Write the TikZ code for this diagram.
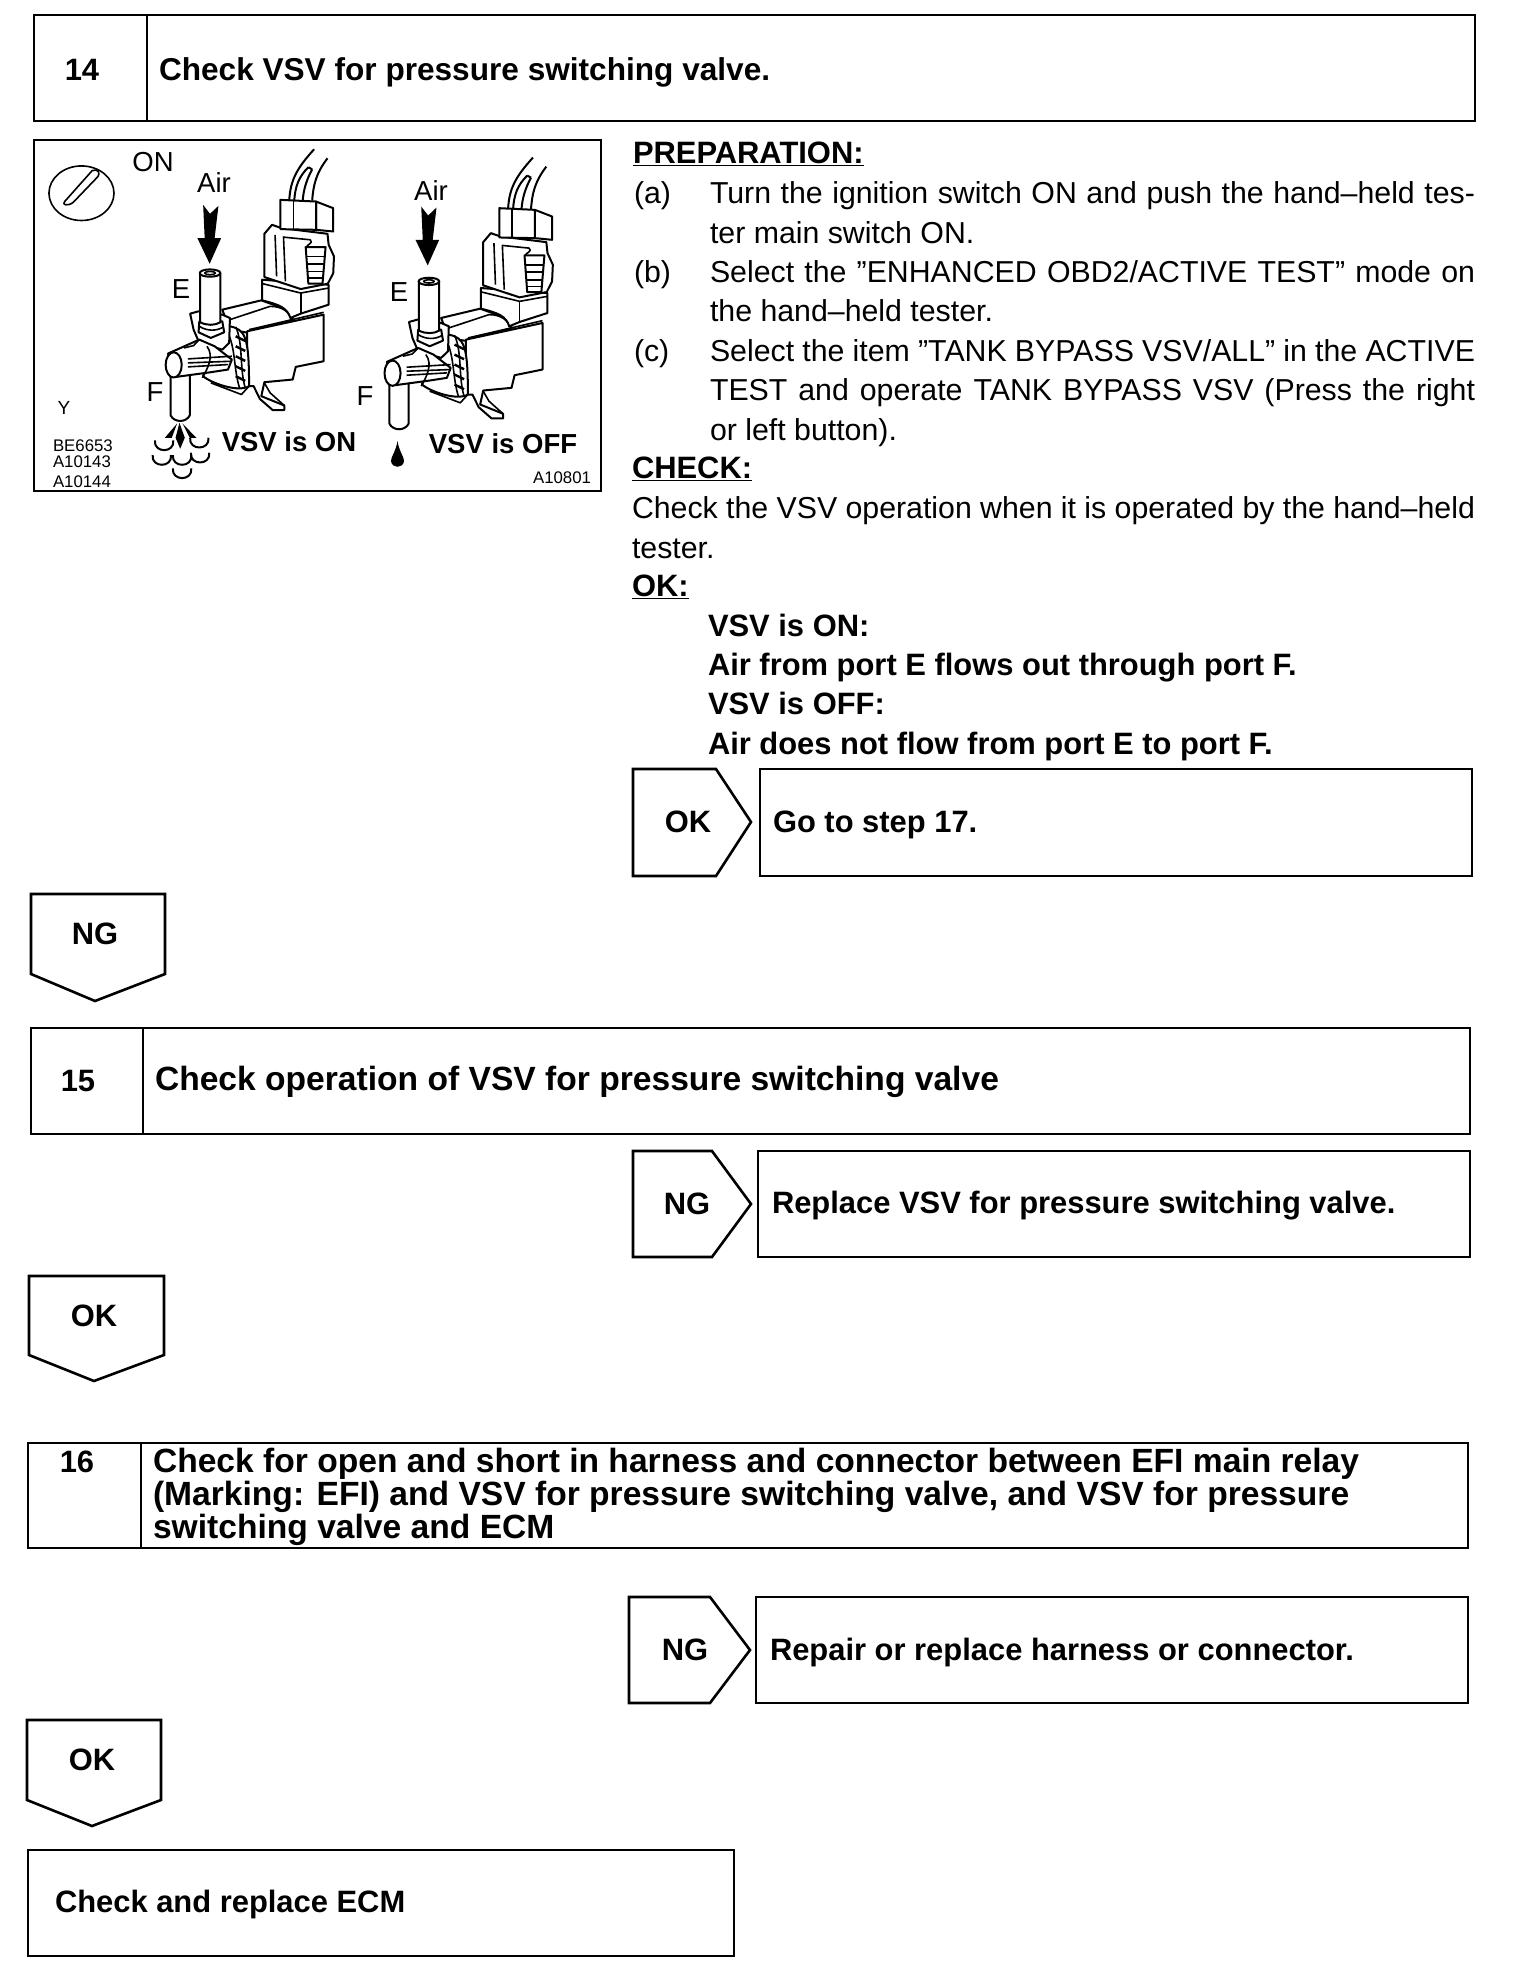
\documentclass[tikz,border=0pt]{standalone}
\usepackage{fontspec}
\setmainfont{Liberation Sans}
\newcommand{\bodyfs}{\fontsize{30.3}{35}\selectfont}
\newcommand{\boldfs}{\fontsize{30.9}{33}\selectfont\bfseries}
\newcommand{\jl}[2]{\makebox[#1pt][s]{#2}}
\tikzset{
 boxline/.style={draw=black,line width=2.6pt,line join=miter},
 body/.style={anchor=base west,inner sep=0pt,outer sep=0pt,font=\bodyfs},
 bold/.style={anchor=base west,inner sep=0pt,outer sep=0pt,font=\boldfs},
 boldl/.style={anchor=base west,inner sep=0pt,outer sep=0pt,font=\fontsize{33.6}{35}\selectfont\bfseries},
 boldm/.style={anchor=base west,inner sep=0pt,outer sep=0pt,font=\fontsize{31.6}{35}\selectfont\bfseries},
 ctr/.style={anchor=center,inner sep=0pt,outer sep=0pt,font=\boldfs},
 ill/.style={inner sep=0pt,outer sep=0pt,font=\fontsize{27.5}{30}\selectfont},
 illb/.style={inner sep=0pt,outer sep=0pt,font=\fontsize{27.5}{32}\selectfont\bfseries},
 tiny/.style={inner sep=0pt,outer sep=0pt,anchor=base west,font=\fontsize{16.8}{18}\selectfont},
 v/.style={draw=black,line width=2pt,fill=white,line join=round},
 vl/.style={draw=black,line width=1.6pt,line join=round},
}
% valve in zoom coordinates
\newcommand{\valve}{%
 % wires
 \draw[vl,line width=2pt] (770,58) .. controls (725,115) and (708,150) .. (705,212);
 \draw[vl,line width=2pt] (805,85) .. controls (775,130) and (768,165) .. (765,212);
 \draw[vl,line width=2pt] (755,112) .. controls (730,140) and (720,170) .. (718,215);
 \draw[vl,line width=2pt] (765,118) .. controls (750,150) and (742,180) .. (740,215);
 \draw[vl,line width=2pt] (755,112) -- (765,118);
 % main body back (cylinder)
 \draw[v] (530,540) -- (632,512) -- (700,540) -- (715,570) -- (600,610) -- (550,600) -- cycle;
 \draw[vl] (550,570) -- (655,530) .. controls (690,530) and (705,550) .. (712,568);
 % plug seat
 \draw[v] (634,450) -- (808,465) -- (808,525) -- (735,552) -- (708,565) .. controls (700,535) and (680,525) .. (634,512) -- cycle;
 \draw[vl] (636,462) -- (735,490) -- (808,475);
 \draw[vl] (735,490) -- (735,552);
 % connector
 \draw[v] (640,312) -- (660,285) -- (685,295) -- (805,312) -- (808,345) -- (822,380) -- (820,430) -- (806,462) -- (735,478) -- (640,442) -- cycle;
 \draw[vl] (690,320) -- (695,455);
 \draw[vl] (668,315) -- (672,440);
 \draw[vl] (690,322) -- (760,330) .. controls (770,340) and (750,345) .. (750,352);
 \draw[v] (748,352) -- (800,352) -- (792,462) -- (755,462) -- cycle;
 \foreach \yy in {380,402,425,445} \draw[vl] (752,\yy) -- (795,\yy);
 % top plug
 \draw[v] (775,215) -- (820,235) -- (820,305) -- (775,300) -- cycle;
 \draw[v] (682,210) -- (775,215) -- (775,300) -- (682,298) -- cycle;
 \draw[vl] (716,214) -- (716,300);
 % main body
 \draw[v] (595,605) -- (795,555) -- (795,695) -- (722,712) -- (714,750) -- (640,758) -- (632,800) -- (692,828) -- (692,842) -- (662,842) -- (628,808) -- (612,770) -- (595,770) -- cycle;
 \draw[vl] (600,600) -- (795,548);
 \draw[vl] (640,760) -- (655,790) -- (692,828);
 % coil disk
 \draw[v] (550,590) .. controls (590,600) and (600,620) .. (600,770) .. controls (570,790) and (500,760) .. (480,740) -- (500,640) -- cycle;
 \draw[vl] (565,592) .. controls (585,640) and (575,720) .. (590,775);
 \draw[vl] (545,610) .. controls (565,660) and (560,720) .. (575,775);
 \foreach \yy in {620,650,680,710,740} \draw[vl,line width=2.4pt] (565,\yy) -- (590,\yy+14);
 \draw[vl] (500,760) -- (580,795) -- (600,770);
 % flange & nut
 \draw[v] (446,552) -- (468,545) -- (530,555) -- (550,565) -- (548,640) -- (530,660) -- (470,640) -- (455,600) -- cycle;
 \draw[v] (470,575) -- (530,575) -- (535,608) -- (500,625) -- (468,608) -- cycle;
 \draw[vl] (470,590) .. controls (490,605) and (515,605) .. (533,592);
 % E tube
 \draw[v] (472,430) -- (472,578) .. controls (490,588) and (510,588) .. (525,578) -- (525,430) -- cycle;
 \draw[v] (498,430) ellipse [x radius=27,y radius=11];
 \draw[vl] (498,430) ellipse [x radius=14,y radius=5];
 % F tube
 \draw[v] (395,735) -- (395,858) .. controls (405,880) and (435,880) .. (445,858) -- (445,730) -- cycle;
 % F horizontal
 \draw[v] (388,672) -- (470,630) -- (510,650) -- (555,690) -- (545,720) -- (500,728) -- (410,742) -- cycle;
 \draw[vl] (430,655) -- (455,648) -- (470,630);
 \draw[vl] (440,688) -- (555,680);
 \draw[vl] (440,700) -- (555,695);
 \draw[vl] (440,712) -- (545,705);
 \draw[vl] (490,650) .. controls (510,680) and (490,720) .. (478,745);
 \draw[v] (403,706) ellipse [x radius=21,y radius=38];
}
\newcommand{\airarrow}{%
 \fill (480,225) -- (498,252) -- (520,228) -- (510,325) -- (527,325) -- (497,402) -- (465,325) -- (484,325) -- cycle;
}
\begin{document}
\begin{tikzpicture}[x=1pt,y=-1pt]
\useasboundingbox (0,0) rectangle (1520,1976);
\fill[white] (0,0) rectangle (1520,1976);
% header 14
\draw[boxline] (34,15) rectangle (1475,121);
\draw[boxline] (147,15) -- (147,121);
\node[ctr] (n14) at (82,70) {14};
\node[boldm] (t14) at (159,80) {Check VSV for pressure switching valve.};
% illustration
\draw[boxline] (34,140) rectangle (601,491);
\begin{scope}[shift={(19.5,130)},x=.3826pt,y=-.3327pt]
 \draw[vl] (162,190) ellipse [x radius=85,y radius=82];
 \draw[vl] (118,215) -- (190,122) .. controls (205,115) and (212,130) .. (205,140) -- (140,218) .. controls (125,230) and (110,225) .. (118,215) -- cycle;
 \valve
 \airarrow
 \begin{scope}[shift={(572,25)}]\valve\end{scope}
 \begin{scope}[shift={(570,5)}]\airarrow\end{scope}
 % puffs
 \fill (412,882) -- (380,925) -- (398,925) -- cycle;
 \fill (418,880) -- (408,925) -- (420,958) -- (432,925) -- cycle;
 \fill (426,882) -- (445,925) -- (462,925) -- cycle;
 \foreach \cx/\cy in {378/948,470/940,372/992,425/992,472/985,425/1032}{
  \draw[vl,line width=2pt] (\cx-24,\cy-15) .. controls (\cx-28,\cy+24) and (\cx+28,\cy+24) .. (\cx+24,\cy-15);
 }
 % drop
 \fill (988,935) .. controls (992,965) and (1006,985) .. (1005,995) .. controls (1003,1018) and (973,1018) .. (971,995) .. controls (970,985) and (984,965) .. (988,935) -- cycle;
\end{scope}
\node[ill] (on) at (153,162) {ON};
\node[ill] (air1) at (214,183) {Air};
\node[ill] (air2) at (431,191) {Air};
\node[ill] (e1) at (181,289) {E};
\node[ill] (e2) at (399,292) {E};
\node[ill] (f1) at (155,392) {F};
\node[ill] (f2) at (365,396) {F};
\node[ill,font=\fontsize{19}{21}\selectfont] (y) at (64,408) {Y};
\node[illb] (vsvon) at (289,442) {VSV is ON};
\node[illb] (vsvoff) at (503,444) {VSV is OFF};
\node[tiny] (c1) at (53,451) {BE6653};
\node[tiny] (c2) at (53,467) {A10143};
\node[tiny] (c3) at (53,487) {A10144};
\node[tiny,anchor=base east] (c4) at (591,483) {A10801};
% right text
\node[bold] (prep) at (633,163) {\underline{PREPARATION:}};
\node[body] (a) at (634,203) {(a)};
\node[body] (a1) at (710,203) {\jl{765}{Turn the ignition switch ON and push the hand--held tes-}};
\node[body] (a2) at (710,243) {ter main switch ON.};
\node[body] (b) at (634,282) {(b)};
\node[body] (b1) at (710,282) {\jl{765}{Select the "ENHANCED OBD2/ACTIVE TEST" mode on}};
\node[body] (b2) at (710,321) {the hand--held tester.};
\node[body] (c) at (634,361) {(c)};
\node[body] (c1l) at (710,361) {\jl{765}{Select the item "TANK BYPASS VSV/ALL" in the ACTIVE}};
\node[body] (c2l) at (710,400) {\jl{765}{TEST and operate TANK BYPASS VSV (Press the right}};
\node[body] (c3l) at (710,440) {or left button).};
\node[bold] (chk) at (632,478) {\underline{CHECK:}};
\node[body] (chk1) at (632,518) {\jl{843}{Check the VSV operation when it is operated by the hand--held}};
\node[body] (chk2) at (632,558) {tester.};
\node[bold] (okh) at (632,596) {\underline{OK:}};
\node[bold] (ok1) at (708,636) {VSV is ON:};
\node[bold] (ok2) at (708,675) {Air from port E flows out through port F.};
\node[bold] (ok3) at (708,714) {VSV is OFF:};
\node[bold] (ok4) at (708,754) {Air does not flow from port E to port F.};
% OK right
\draw[boxline] (633,769) -- (716,769) -- (751,822) -- (716,876) -- (633,876) -- cycle;
\node[ctr] (okr) at (688,822) {OK};
\draw[boxline] (760,769) rectangle (1472,876);
\node[bold] (go) at (773,832) {Go to step 17.};
% NG down
\draw[boxline] (31,894) -- (165,894) -- (165,974) -- (95,1001) -- (31,974) -- cycle;
\node[ctr] (ngd) at (95,934) {NG};
% 15
\draw[boxline] (31,1028) rectangle (1470,1134);
\draw[boxline] (143,1028) -- (143,1134);
\node[ctr] (n15) at (78,1081) {15};
\node[boldl] (t15) at (155,1090) {Check operation of VSV for pressure switching valve};
% NG right
\draw[boxline] (633,1151) -- (712,1151) -- (751,1204) -- (712,1257) -- (633,1257) -- cycle;
\node[ctr] (ngr) at (687,1204) {NG};
\draw[boxline] (758,1151) rectangle (1470,1257);
\node[bold] (rep) at (772,1213) {Replace VSV for pressure switching valve.};
% OK down
\draw[boxline] (29,1276) -- (164,1276) -- (164,1355) -- (94,1381) -- (29,1355) -- cycle;
\node[ctr] (okd) at (94,1316) {OK};
% 16
\draw[boxline] (28,1443) rectangle (1468,1548);
\draw[boxline] (141,1443) -- (141,1548);
\node[ctr] (n16) at (77,1462) {16};
\node[boldl] (t16a) at (153,1472) {Check for open and short in harness and connector between EFI main relay};
\node[boldl] (t16b) at (153,1505) {(Marking: EFI) and VSV for pressure switching valve, and VSV for pressure};
\node[boldl] (t16c) at (153,1538) {switching valve and ECM};
% NG right 2
\draw[boxline] (629,1597) -- (710,1597) -- (750,1650) -- (710,1703) -- (629,1703) -- cycle;
\node[ctr] (ngr2) at (685,1650) {NG};
\draw[boxline] (756,1597) rectangle (1468,1703);
\node[bold] (rep2) at (770,1660) {Repair or replace harness or connector.};
% OK down 2
\draw[boxline] (27,1720) -- (161,1720) -- (161,1800) -- (92,1826) -- (27,1800) -- cycle;
\node[ctr] (okd2) at (92,1760) {OK};
% final
\draw[boxline] (28,1850) rectangle (734,1956);
\node[bold] (fin) at (55,1912) {Check and replace ECM};
\end{tikzpicture}
\end{document}
